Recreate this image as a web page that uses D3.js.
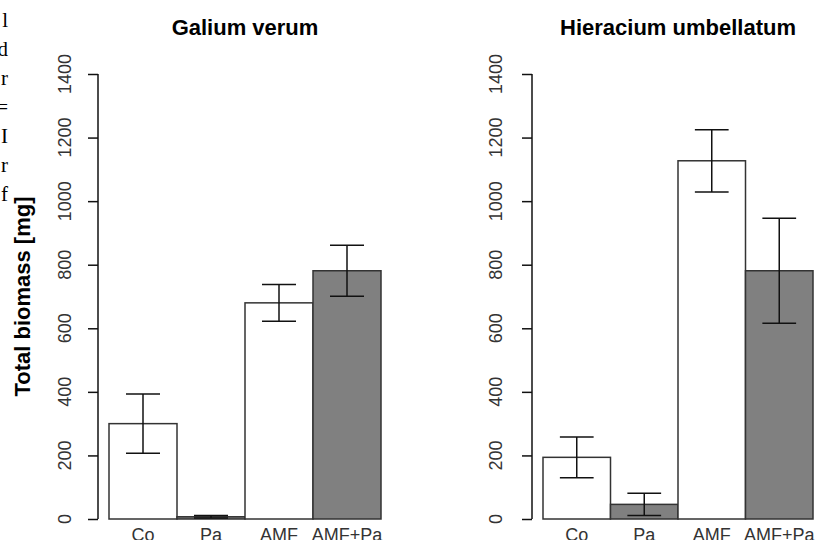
<!DOCTYPE html>
<html>
<head>
<meta charset="utf-8">
<script type="text/javascript" src="https://cdnjs.cloudflare.com/ajax/libs/d3/7.8.5/d3.min.js"></script>
<style>
  body { margin: 0; background: #fff; }
  svg { display: block; }
</style>
</head>
<body>
<svg width="819" height="540"></svg>

<script type="text/javascript">
    // data
    var treatments = ["Co", "Pa", "AMF", "AMF+Pa"];
    var fills = ["#ffffff", "#808080", "#ffffff", "#808080"];
    var yTicks = [0, 200, 400, 600, 800, 1000, 1200, 1400];

    var galiumMeans = [300, 7, 680, 781];
    var galiumErr = [93, 4, 58, 80];

    var hieraciumMeans = [194, 46, 1127, 781];
    var hieraciumErr = [64, 35, 98, 165];

    // clipped text of the page next to the figure
    var marginChars = ["l", "d", "r", "=", "I", "r", "f"];

    var svg = d3.select("svg");

    var y = d3.scaleLinear().domain([0, 1400]).range([519, 74]);

    // stray letters on the left edge
    svg.selectAll("text.margin")
            .data(marginChars)
        .enter()
            .append("text")
            .attr("class", "margin")
            .attr("x", 8)
            .attr("y", function (d, i) { return 27 + i * 29; })
            .attr("text-anchor", "end")
            .style("font-family", "'Liberation Serif', 'DejaVu Serif', serif")
            .style("font-size", "21px")
            .style("fill", "#000")
            .text(function (d) { return d; });

    svg.append("text")
        .attr("transform", "translate(30," + ((y(0) + y(1400)) / 2) + ") rotate(-90)")
        .attr("text-anchor", "middle")
        .style("font-family", "'Liberation Sans', Arial, sans-serif")
        .style("font-weight", "bold")
        .style("font-size", "22px")
        .text("Total biomass [mg]");

    var drawPanel = function (axisX, x0, x1, title, means, errs, labelOffset) {
        var g = svg.append("g");

        var x = d3.scaleBand().domain(treatments).range([x0, x1]).padding(0);
        var capHalf = x.bandwidth() / 4;

        var rows = treatments.map(function (t, i) {
            return { name: t, mean: means[i], err: errs[i], fill: fills[i] };
        });

        // title
        g.append("text")
            .attr("x", (x0 + x1) / 2)
            .attr("y", 35)
            .attr("text-anchor", "middle")
            .style("font-family", "'Liberation Sans', Arial, sans-serif")
            .style("font-weight", "bold")
            .style("font-size", "22px")
            .text(title);

        // y axis
        var axis = g.append("g")
            .attr("transform", "translate(" + axisX + ",0)")
            .call(d3.axisLeft(y).tickValues(yTicks).tickSize(10).tickFormat(""));
        axis.select(".domain")
            .attr("d", "M0," + y(0) + "V" + y(1400))
            .style("stroke", "#111")
            .style("stroke-width", 1.5);
        axis.selectAll(".tick line")
            .style("stroke", "#111")
            .style("stroke-width", 1.5);

        g.selectAll("text.ytick")
                .data(yTicks)
            .enter()
                .append("text")
                .attr("class", "ytick")
                .attr("transform", function (d) {
                    return "translate(" + (axisX - labelOffset) + "," + y(d) + ") rotate(-90)";
                })
                .attr("dy", "0.36em")
                .attr("text-anchor", "middle")
                .style("font-family", "'Liberation Sans', Arial, sans-serif")
                .style("font-size", "18px")
                .style("fill", "#333")
                .text(function (d) { return d; });

        // bars
        g.selectAll("rect.bar")
                .data(rows)
            .enter()
                .append("rect")
                .attr("class", "bar")
                .attr("x", function (d) { return x(d.name); })
                .attr("y", function (d) { return y(d.mean); })
                .attr("width", x.bandwidth())
                .attr("height", function (d) { return y(0) - y(d.mean); })
                .style("fill", function (d) { return d.fill; })
                .style("stroke", "#333")
                .style("stroke-width", 1.5);

        // error bars
        var eb = g.selectAll("g.err")
                .data(rows)
            .enter()
                .append("g")
                .attr("class", "err")
                .style("stroke", "#111")
                .style("stroke-width", 1.5);

        eb.append("line")
            .attr("x1", function (d) { return x(d.name) + x.bandwidth() / 2; })
            .attr("x2", function (d) { return x(d.name) + x.bandwidth() / 2; })
            .attr("y1", function (d) { return y(d.mean - d.err); })
            .attr("y2", function (d) { return y(d.mean + d.err); });
        eb.append("line")
            .attr("x1", function (d) { return x(d.name) + x.bandwidth() / 2 - capHalf; })
            .attr("x2", function (d) { return x(d.name) + x.bandwidth() / 2 + capHalf; })
            .attr("y1", function (d) { return y(d.mean + d.err); })
            .attr("y2", function (d) { return y(d.mean + d.err); });
        eb.append("line")
            .attr("x1", function (d) { return x(d.name) + x.bandwidth() / 2 - capHalf; })
            .attr("x2", function (d) { return x(d.name) + x.bandwidth() / 2 + capHalf; })
            .attr("y1", function (d) { return y(d.mean - d.err); })
            .attr("y2", function (d) { return y(d.mean - d.err); });

        // category labels (cut off by the bottom edge, as in the source)
        g.selectAll("text.xlab")
                .data(treatments)
            .enter()
                .append("text")
                .attr("class", "xlab")
                .attr("x", function (d) { return x(d) + x.bandwidth() / 2; })
                .attr("y", 541)
                .attr("text-anchor", "middle")
                .style("font-family", "'Liberation Sans', Arial, sans-serif")
                .style("font-size", "18px")
                .style("fill", "#333")
                .text(function (d) { return d; });
    };

    drawPanel(98, 109, 381, "Galium verum", galiumMeans, galiumErr, 33);
    drawPanel(532, 543, 813, "Hieracium umbellatum", hieraciumMeans, hieraciumErr, 36);
</script>
</body>
</html>
